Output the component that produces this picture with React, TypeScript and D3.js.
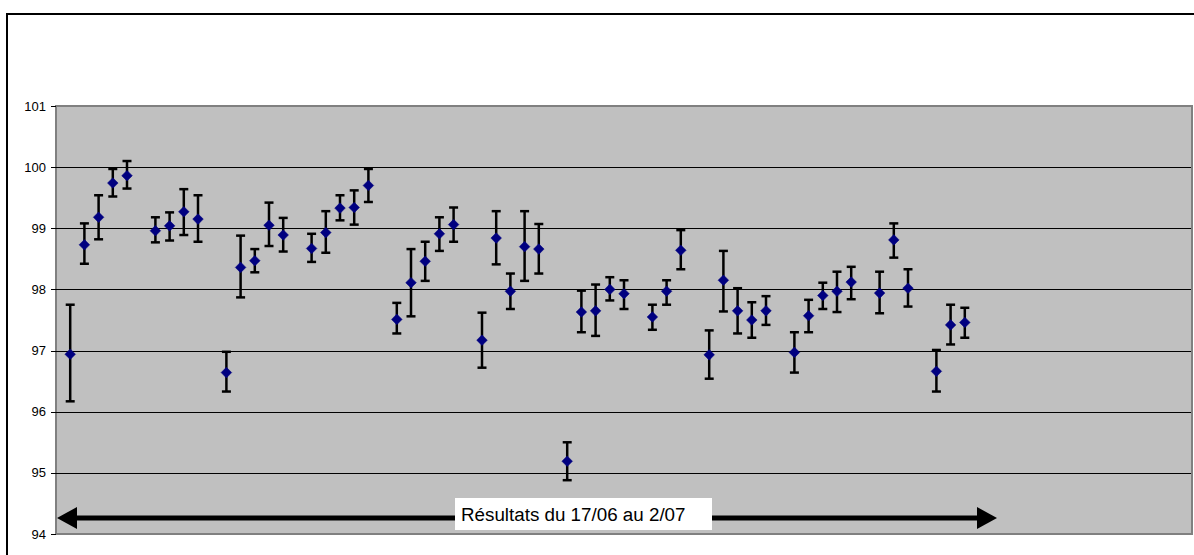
import React from "react";
import * as d3 from "d3";

// Daily results (null = no measurement that day)
const values: (number | null)[] = [
  96.94, 98.73, 99.18, 99.74, 99.86, null,
  98.96, 99.04, 99.27, 99.15, null,
  96.64, 98.36, 98.47, 99.05, 98.89, null,
  98.67, 98.93, 99.33, 99.34, 99.7, null,
  97.51, 98.11, 98.46, 98.91, 99.06, null,
  97.17, 98.84, 97.97, 98.7, 98.66, null,
  95.19, 97.63, 97.65, 98.0, 97.93, null,
  97.55, 97.97, 98.64, null,
  96.93, 98.15, 97.65, 97.5, 97.65, null,
  96.97, 97.57, 97.9, 97.97, 98.12, null,
  97.94, 98.81, 98.02, null,
  96.66, 97.42, 97.46,
];
const upper: (number | null)[] = [
  97.75, 99.08, 99.54, 99.97, 100.1, null,
  99.18, 99.26, 99.64, 99.54, null,
  96.98, 98.88, 98.66, 99.42, 99.17, null,
  98.91, 99.28, 99.54, 99.62, 99.97, null,
  97.78, 98.66, 98.78, 99.18, 99.34, null,
  97.62, 99.28, 98.26, 99.28, 99.07, null,
  95.5, 97.98, 98.08, 98.2, 98.15, null,
  97.75, 98.15, 98.97, null,
  97.33, 98.63, 98.02, 97.79, 97.89, null,
  97.3, 97.83, 98.11, 98.29, 98.37, null,
  98.29, 99.08, 98.33, null,
  97.01, 97.75, 97.7,
];
const lower: (number | null)[] = [
  96.17, 98.42, 98.82, 99.52, 99.65, null,
  98.77, 98.8, 98.89, 98.78, null,
  96.33, 97.87, 98.28, 98.71, 98.62, null,
  98.45, 98.6, 99.13, 99.06, 99.43, null,
  97.28, 97.56, 98.14, 98.63, 98.78, null,
  96.72, 98.41, 97.68, 98.14, 98.26, null,
  94.88, 97.3, 97.24, 97.82, 97.68, null,
  97.34, 97.75, 98.33, null,
  96.54, 97.64, 97.28, 97.21, 97.42, null,
  96.64, 97.3, 97.68, 97.63, 97.84, null,
  97.61, 98.52, 97.72, null,
  96.33, 97.1, 97.21,
];
const yTicks = [94, 95, 96, 97, 98, 99, 100, 101];
const annotation = "Résultats du 17/06 au 2/07";

const W = 1194;
const H = 555;
const plot = { left: 56, right: 1192, top: 106, bottom: 534 };

export default function App() {
  const x = d3.scaleLinear().domain([-1, 79]).range([plot.left, plot.right]);
  const y = d3.scaleLinear().domain([94, 101]).range([plot.bottom, plot.top]);

  const pts = values
    .map((v, i) => ({ i, v, hi: upper[i], lo: lower[i] }))
    .filter((d) => d.v !== null) as { i: number; v: number; hi: number; lo: number }[];

  const diamond = d3.symbol().type(d3.symbolDiamond2).size(72)();

  const arrowY = 518;
  const arrowL = 57;
  const arrowR = 997;
  const font = "Arial, 'Liberation Sans', sans-serif";

  return (
    <div style={{ position: "absolute", left: 0, top: 0 }}>
      <svg width={W} height={H} style={{ display: "block", background: "#fff" }}>
        {/* outer chart border */}
        <line x1={7} y1={14} x2={W + 5} y2={14} stroke="#000" strokeWidth={2} />
        <line x1={7} y1={13} x2={7} y2={H + 5} stroke="#000" strokeWidth={2} />

        {/* plot area */}
        <rect
          x={plot.left}
          y={plot.top}
          width={plot.right - plot.left}
          height={plot.bottom - plot.top}
          fill="#C0C0C0"
          stroke="#808080"
          strokeWidth={2}
        />

        {/* gridlines */}
        {yTicks
          .filter((t) => t > 94 && t < 101)
          .map((t) => (
            <line
              key={"g" + t}
              x1={plot.left}
              x2={plot.right - 1}
              y1={Math.round(y(t)) + 0.5}
              y2={Math.round(y(t)) + 0.5}
              stroke="#000"
              strokeWidth={1}
            />
          ))}

        {/* y axis ticks + labels */}
        {yTicks.map((t) => (
          <g key={"t" + t}>
            <line
              x1={plot.left - 5}
              x2={plot.left}
              y1={Math.round(y(t)) + 0.5}
              y2={Math.round(y(t)) + 0.5}
              stroke="#000"
              strokeWidth={1}
            />
            <text
              x={46}
              y={y(t)}
              dy="0.35em"
              textAnchor="end"
              fontFamily={font}
              fontSize={13}
              fill="#000"
            >
              {t}
            </text>
          </g>
        ))}

        {/* error bars */}
        {pts.map((d) => {
          const cx = x(d.i);
          return (
            <g key={"e" + d.i} stroke="#000" strokeWidth={2.5}>
              <line x1={cx} x2={cx} y1={y(d.hi)} y2={y(d.lo)} />
              <line x1={cx - 4.5} x2={cx + 4.5} y1={y(d.hi)} y2={y(d.hi)} />
              <line x1={cx - 4.5} x2={cx + 4.5} y1={y(d.lo)} y2={y(d.lo)} />
            </g>
          );
        })}

        {/* markers */}
        {pts.map((d) => (
          <path
            key={"m" + d.i}
            d={diamond || ""}
            transform={`translate(${x(d.i)},${y(d.v)})`}
            fill="#000080"
            stroke="#000080"
            strokeWidth={0.5}
          />
        ))}

        {/* double arrow */}
        <line x1={arrowL + 18} x2={arrowR - 18} y1={arrowY} y2={arrowY} stroke="#000" strokeWidth={5} />
        <path d={`M${arrowL},${arrowY} L${arrowL + 20},${arrowY - 11} L${arrowL + 20},${arrowY + 11} Z`} fill="#000" />
        <path d={`M${arrowR},${arrowY} L${arrowR - 20},${arrowY - 11} L${arrowR - 20},${arrowY + 11} Z`} fill="#000" />

        {/* annotation box */}
        <rect x={455} y={498} width={257} height={32} fill="#fff" />
        <text x={461} y={521} fontFamily={font} fontSize={18.8} fill="#000">
          {annotation}
        </text>
      </svg>
    </div>
  );
}
